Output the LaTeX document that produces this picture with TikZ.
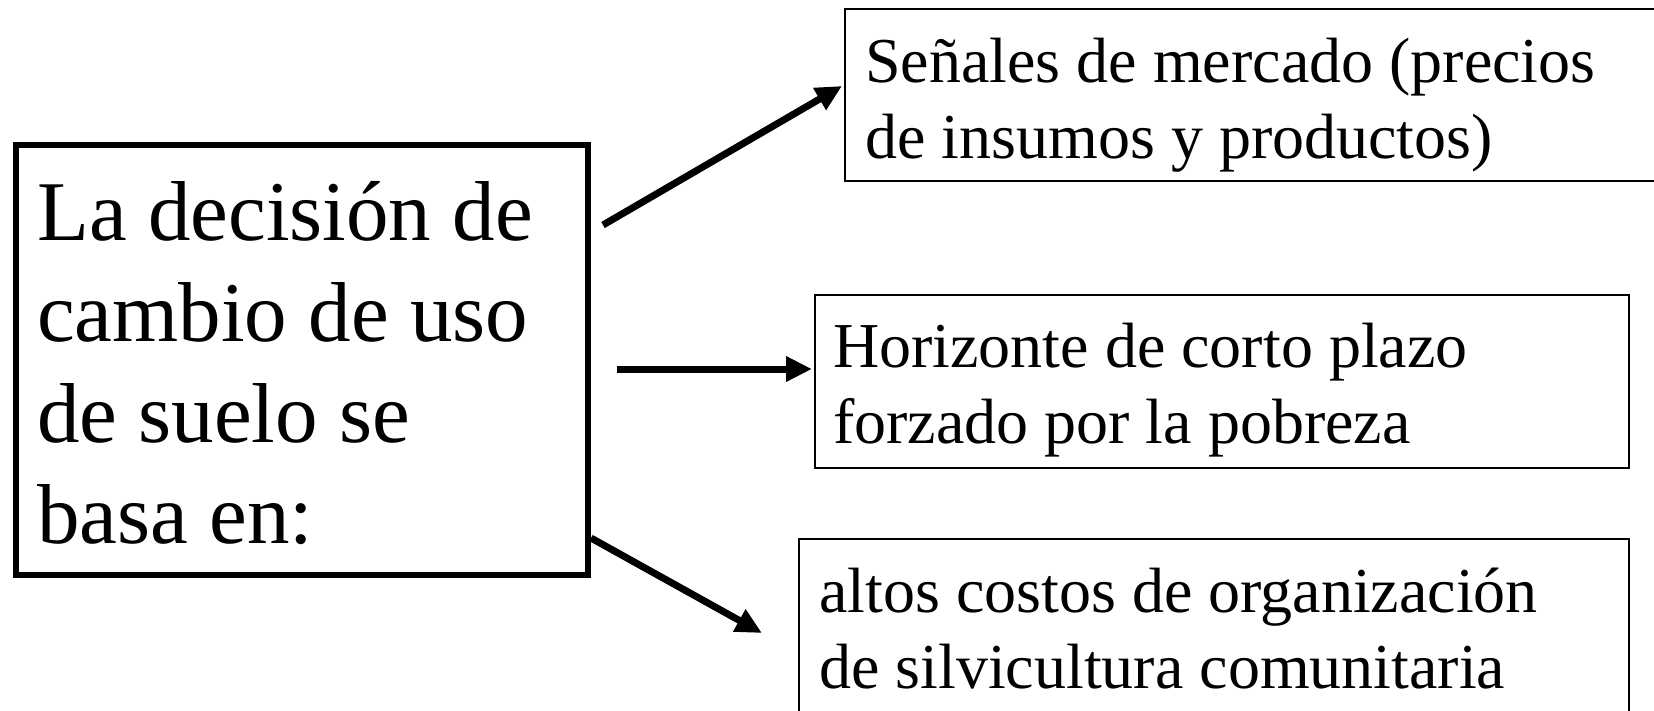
\documentclass[tikz,border=0pt]{standalone}
\usepackage{fontspec}
\setmainfont{Liberation Serif}
\usetikzlibrary{arrows.meta,calc}
\begin{document}
\begin{tikzpicture}[x=1pt,y=-1pt,
  mainbox/.style={draw,line width=5.5pt,inner sep=0pt,outer sep=0pt,anchor=north west},
  sidebox/.style={draw,line width=1.8pt,inner sep=0pt,outer sep=0pt,anchor=north west},
  bigtext/.style={anchor=base west,inner sep=0pt,font=\fontsize{85}{101}\selectfont},
  smalltext/.style={anchor=base west,inner sep=0pt,font=\fontsize{64}{76}\selectfont},
  arr/.style={line width=7pt,-{Triangle[length=26pt,width=24pt]}}]
\useasboundingbox (0,0) rectangle (1654,710);
\fill[white] (0,0) rectangle (1654,710);
% boxes
\node[mainbox,minimum width=572pt,minimum height=430pt] (L) at (16,145) {};
\node[sidebox,minimum width=835pt,minimum height=172pt] (b1) at (845,9) {};
\node[sidebox,minimum width=814pt,minimum height=173pt] (b2) at (815,295) {};
\node[sidebox,minimum width=830pt,minimum height=201pt] (b3) at (799,539) {};
% texts
\node[bigtext] (t0) at (37,240) {\begin{tabular}[t]{@{}l@{}}La decisión de\\cambio de uso\\de suelo se\\basa en:\end{tabular}};
\node[smalltext] (t1) at (865,82) {\begin{tabular}[t]{@{}l@{}}Señales de mercado (precios\\de insumos y productos)\end{tabular}};
\node[smalltext] (t2) at (833,367) {\begin{tabular}[t]{@{}l@{}}Horizonte de corto plazo\\forzado por la pobreza\end{tabular}};
\node[smalltext] (t3) at (819,612) {\begin{tabular}[t]{@{}l@{}}altos costos de organización\\de silvicultura comunitaria\end{tabular}};
% arrows
\draw[arr] ($(L.north east)+(15,80)$) -- ($(b1.north west)+(-3,77)$);
\draw[arr] ($(L.east)+(29,9)$) -- ($(b2.north west)+(-3,74)$);
\draw[arr] ($(L.south east)+(3,-37)$) -- ($(b3.north west)+(-37,94)$);
\end{tikzpicture}
\end{document}
